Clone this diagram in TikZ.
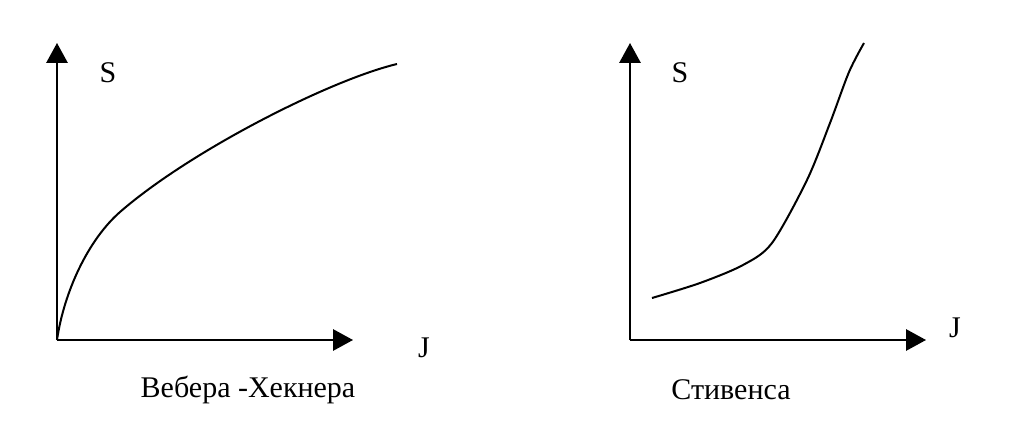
\documentclass[tikz,border=0pt]{standalone}
\usepackage{fontspec}
\setmainfont{Liberation Serif}
\usepackage{tikz}
\usetikzlibrary{positioning,arrows.meta}

\begin{document}
\begin{tikzpicture}[
    x=0.75pt, y=-0.75pt,
    every node/.style={font=\fontsize{22.5}{27}\selectfont, inner sep=0pt},
    axis/.style={line width=1.5pt, -{Triangle[length=15pt,width=16pt]}},
    curve/.style={line width=1.5pt, line join=round}
]
    \useasboundingbox (0,0) rectangle (1024,424);

    % left graph
    \coordinate (o1) at (57,340);
    \coordinate (y1) at (57,43);
    \coordinate (x1) at (353,340);
    \draw[axis] (o1) -- (y1);
    \draw[axis] (o1) -- (x1);
    \node (s1) at (108,73) {S};
    \node (j1) at (424,348) {J};
    \node (t1) at (248,390) {Вебера -Хекнера};
    \coordinate (k1) at (120,212);
    \coordinate (e1) at (397,64);
    \draw[curve] (o1) .. controls (64,292) and (88,240) .. (k1)
        .. controls (190,151) and (330,80) .. (e1);

    % right graph
    \coordinate (o2) at (630,340);
    \coordinate (y2) at (630,43);
    \coordinate (x2) at (926,340);
    \draw[axis] (o2) -- (y2);
    \draw[axis] (o2) -- (x2);
    \node (s2) at (680,73) {S};
    \node (j2) at (955,328) {J};
    \node (t2) at (731,390) {Стивенса};
    \draw[curve] plot[smooth] coordinates {
        (652,298) (700,283) (743,265) (772,243)
        (807,180) (830,123) (849,72) (864,43)};
\end{tikzpicture}
\end{document}
